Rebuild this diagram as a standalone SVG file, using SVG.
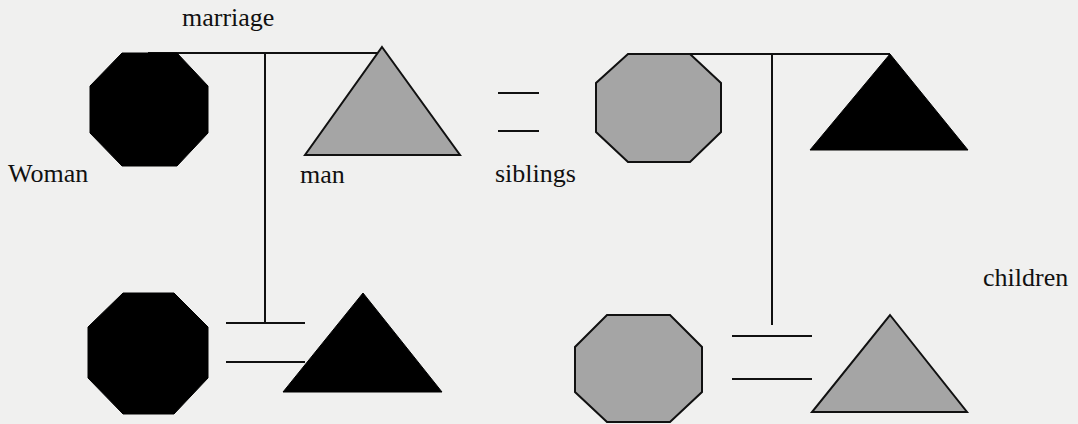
<svg xmlns="http://www.w3.org/2000/svg" width="1078" height="424" viewBox="0 0 1078 424">
<style>
.bg{fill:#f0f0ef}
.blk{fill:#000;stroke:#000;stroke-width:1}
.gry{fill:#a5a5a5;stroke:#111;stroke-width:2;stroke-linejoin:miter}
.ln{stroke:#111;stroke-width:2;fill:none}
text{font-family:"Liberation Serif","Times New Roman",serif;font-size:26px;fill:#111}
</style>
<rect class="bg" x="0" y="0" width="1078" height="424"/>
<g id="connectors">
<line class="ln" x1="148" y1="53" x2="382" y2="53"/>
<line class="ln" x1="265" y1="53" x2="265" y2="323"/>
<line class="ln" x1="226" y1="323" x2="305" y2="323"/>
<line class="ln" x1="226" y1="362" x2="305" y2="362"/>
<line class="ln" x1="498" y1="93" x2="539" y2="93"/>
<line class="ln" x1="498" y1="131" x2="539" y2="131"/>
<line class="ln" x1="628" y1="54" x2="890" y2="54"/>
<line class="ln" x1="772" y1="54" x2="772" y2="325"/>
<line class="ln" x1="732" y1="336" x2="812" y2="336"/>
<line class="ln" x1="732" y1="379" x2="812" y2="379"/>
</g>
<g id="woman1"><polygon class="blk" points="122,53 177,53 208,86 208,133 177,166 122,166 90,133 90,86"/></g>
<g id="man1"><polygon class="gry" points="382,47 460,155 305,155"/></g>
<g id="woman2"><polygon class="gry" points="628,54 690,54 721,83 721,132 690,162 628,162 596,132 596,83"/></g>
<g id="man2"><polygon class="blk" points="890,54 968,150 810,150"/></g>
<g id="child1"><polygon class="blk" points="123,293 174,293 208,327 208,378 174,414 123,414 88,378 88,327"/></g>
<g id="child2"><polygon class="blk" points="363,293 442,392 283,392"/></g>
<g id="child3"><polygon class="gry" points="607,315 670,315 702,347 702,392 670,422 607,422 575,392 575,347"/></g>
<g id="child4"><polygon class="gry" points="890,315 967,412 812,412"/></g>
<g id="labels">
<text x="182" y="26">marriage</text>
<text x="8" y="182">Woman</text>
<text x="300" y="183">man</text>
<text x="495" y="182">siblings</text>
<text x="983" y="286">children</text>
</g>
</svg>
